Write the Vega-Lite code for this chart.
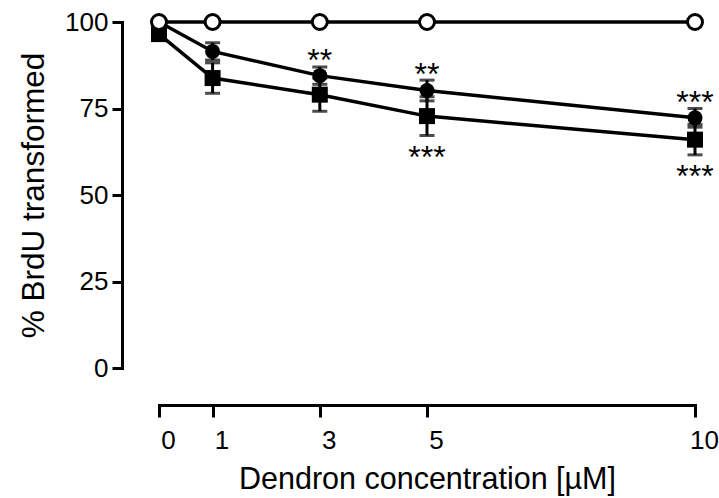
{
  "$schema": "https://vega.github.io/schema/vega-lite/v6.json",
  "autosize": {"type": "none"},
  "width": 536,
  "height": 346,
  "padding": {"left": 159, "top": 22, "right": 24, "bottom": 130},
  "background": "white",
  "config": {
    "font": "Liberation Sans",
    "view": {"stroke": null},
    "axis": {"grid": false, "domainColor": "black", "tickColor": "black", "labelColor": "black", "titleColor": "black", "titleFontWeight": "normal", "domainWidth": 3, "tickWidth": 3, "domainCap": "square", "labelFlush": false}
  },
  "datasets": {
    "pts": [
      {"group": "Control", "conc": 0, "mean": 100, "lo": 100, "hi": 100},
      {"group": "Control", "conc": 1, "mean": 100, "lo": 100, "hi": 100},
      {"group": "Control", "conc": 3, "mean": 100, "lo": 100, "hi": 100},
      {"group": "Control", "conc": 5, "mean": 100, "lo": 100, "hi": 100},
      {"group": "Control", "conc": 10, "mean": 100, "lo": 100, "hi": 100},
      {"group": "A", "conc": 0, "mean": 100, "lo": 99.5, "hi": 100.5},
      {"group": "A", "conc": 1, "mean": 91.5, "lo": 89, "hi": 94},
      {"group": "A", "conc": 3, "mean": 84.5, "lo": 82, "hi": 87},
      {"group": "A", "conc": 5, "mean": 80.2, "lo": 77.2, "hi": 83.2},
      {"group": "A", "conc": 10, "mean": 72.3, "lo": 69.6, "hi": 75},
      {"group": "B", "conc": 0, "mean": 96.5, "lo": 95, "hi": 98},
      {"group": "B", "conc": 1, "mean": 83.8, "lo": 79.4, "hi": 88.2},
      {"group": "B", "conc": 3, "mean": 79, "lo": 74.2, "hi": 83.8},
      {"group": "B", "conc": 5, "mean": 72.8, "lo": 67.2, "hi": 78.4},
      {"group": "B", "conc": 10, "mean": 66, "lo": 61.6, "hi": 70.4}
    ],
    "stars": [
      {"conc": 3, "label": "**", "ypos": 85.8},
      {"conc": 5, "label": "**", "ypos": 81.9},
      {"conc": 10, "label": "***", "ypos": 73.6},
      {"conc": 5, "label": "***", "ypos": 57.8},
      {"conc": 10, "label": "***", "ypos": 52.2}
    ]
  },
  "layer": [
    {
      "data": {"name": "pts"},
      "mark": {"type": "line", "color": "black", "strokeWidth": 3.5},
      "encoding": {
        "x": {"field": "conc", "type": "quantitative", "scale": {"domain": [0, 10], "nice": false},
          "axis": {"values": [0, 1, 3, 5, 10], "offset": 37, "tickSize": 12, "labelFontSize": 26, "labelPadding": 10,
            "labelAlign": "center", "labelOffset": 9,
            "title": "Dendron concentration [µM]", "titleFontSize": 30.5, "titlePadding": 11}},
        "y": {"field": "mean", "type": "quantitative", "scale": {"domain": [0, 100], "nice": false},
          "axis": {"values": [0, 25, 50, 75, 100], "offset": 37, "tickSize": 10, "labelFontSize": 26, "labelPadding": 4, "title": "% BrdU transformed", "titleFontSize": 31.5, "titlePadding": 14}},
        "detail": {"field": "group"}
      }
    },
    {
      "data": {"name": "pts"},
      "transform": [{"filter": "datum.group != 'Control'"}],
      "mark": {"type": "rule", "color": "black", "strokeWidth": 3},
      "encoding": {
        "x": {"field": "conc", "type": "quantitative"},
        "y": {"field": "lo", "type": "quantitative"},
        "y2": {"field": "hi"}
      }
    },
    {
      "data": {"name": "pts"},
      "transform": [{"filter": "datum.group != 'Control'"}],
      "mark": {"type": "tick", "orient": "horizontal", "color": "black", "size": 15, "thickness": 3},
      "encoding": {
        "x": {"field": "conc", "type": "quantitative"},
        "y": {"field": "lo", "type": "quantitative"}
      }
    },
    {
      "data": {"name": "pts"},
      "transform": [{"filter": "datum.group != 'Control'"}],
      "mark": {"type": "tick", "orient": "horizontal", "color": "black", "size": 15, "thickness": 3},
      "encoding": {
        "x": {"field": "conc", "type": "quantitative"},
        "y": {"field": "hi", "type": "quantitative"}
      }
    },
    {
      "data": {"name": "pts"},
      "transform": [{"filter": "datum.group == 'B'"}],
      "mark": {"type": "point", "shape": "square", "filled": true, "color": "black", "size": 256, "opacity": 1},
      "encoding": {
        "x": {"field": "conc", "type": "quantitative"},
        "y": {"field": "mean", "type": "quantitative"}
      }
    },
    {
      "data": {"name": "pts"},
      "transform": [{"filter": "datum.group == 'A'"}],
      "mark": {"type": "point", "shape": "circle", "filled": true, "color": "black", "size": 225, "opacity": 1},
      "encoding": {
        "x": {"field": "conc", "type": "quantitative"},
        "y": {"field": "mean", "type": "quantitative"}
      }
    },
    {
      "data": {"name": "pts"},
      "transform": [{"filter": "datum.group == 'Control'"}],
      "mark": {"type": "point", "shape": "circle", "filled": true, "fill": "white", "stroke": "black", "strokeWidth": 3, "size": 225, "opacity": 1},
      "encoding": {
        "x": {"field": "conc", "type": "quantitative"},
        "y": {"field": "mean", "type": "quantitative"}
      }
    },
    {
      "data": {"name": "stars"},
      "mark": {"type": "text", "color": "black", "fontSize": 32, "baseline": "alphabetic", "align": "center"},
      "encoding": {
        "x": {"field": "conc", "type": "quantitative"},
        "y": {"field": "ypos", "type": "quantitative"},
        "text": {"field": "label"}
      }
    }
  ]
}
